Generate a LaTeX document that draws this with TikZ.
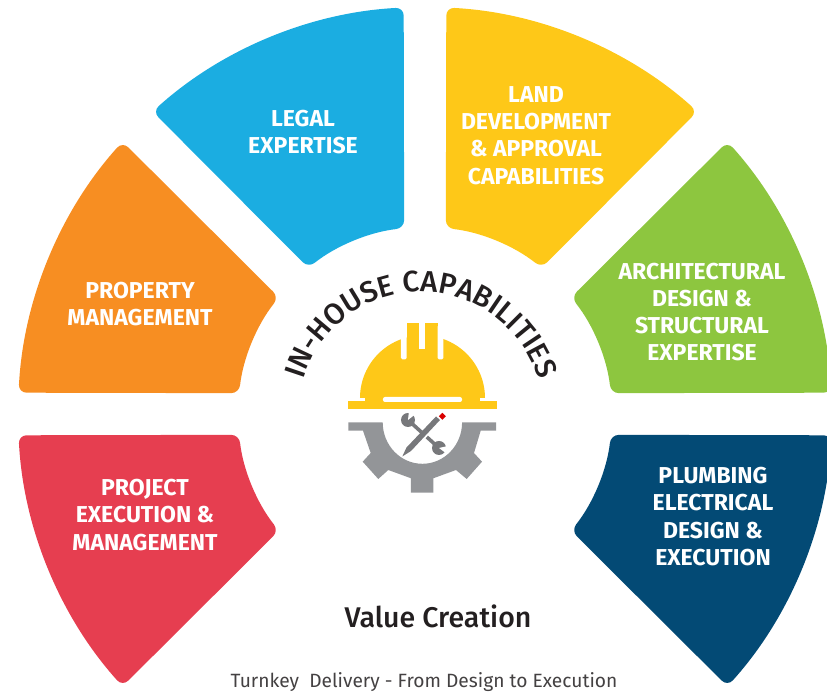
\documentclass[tikz,border=0pt]{standalone}
\usepackage{fontspec}
\usetikzlibrary{decorations.text}
\setmainfont{Fira Sans}
\newfontfamily\medfont{Fira Sans Medium}
\definecolor{legalblue}{HTML}{1BADE1}
\definecolor{landyellow}{HTML}{FEC818}
\definecolor{archgreen}{HTML}{8DC63F}
\definecolor{proporange}{HTML}{F78E22}
\definecolor{projred}{HTML}{E63E50}
\definecolor{plumbnavy}{HTML}{034A75}
\definecolor{geargray}{HTML}{939598}
\definecolor{toolgray}{HTML}{77787B}
\definecolor{inkdark}{HTML}{231F20}
\tikzset{
  sector/.style = {rounded corners = 8pt},
  seclabel/.style = {text = white, align = center, font = \fontsize{23}{27.2}\selectfont\bfseries},
}

\begin{document}
\begin{tikzpicture}[x = 1pt, y = 1pt]
\useasboundingbox (-425,-278) rectangle (402,414);
\clip (-425,-278) rectangle (402,414);
% six sectors round the origin
\fill[sector, legalblue] (93:407) arc (93:132:407) -- (128.6:187) arc (128.6:96.4:187) -- cycle;
\fill[sector, landyellow] (87:407) arc (87:48:407) -- (51.4:187) arc (51.4:83.6:187) -- cycle;
\fill[sector, archgreen] (42:407) arc (42:3:407) -- (6.4:187) arc (6.4:38.6:187) -- cycle;
\fill[sector, proporange] (138:407) arc (138:177:407) -- (173.6:187) arc (173.6:141.4:187) -- cycle;
\fill[sector, projred] (183:407) arc (183:222:407) -- (218.6:187) arc (218.6:186.4:187) -- cycle;
\fill[sector, plumbnavy] (357:407) arc (357:318:407) -- (321.4:187) arc (321.4:353.6:187) -- cycle;
% labels
\node[seclabel] (legal) at (-122,282) {LEGAL\\EXPERTISE};
\node[seclabel] (land) at (111,278.5) {LAND\\DEVELOPMENT\\\& APPROVAL\\CAPABILITIES};
\node[seclabel] (arch) at (277,102) {ARCHITECTURAL\\DESIGN \&\\STRUCTURAL\\EXPERTISE};
\node[seclabel] (prop) at (-285,110) {PROPERTY\\MANAGEMENT};
\node[seclabel] (proj) at (-280,-101) {PROJECT\\EXECUTION \&\\MANAGEMENT};
\node[seclabel] (plumb) at (288,-102.5) {PLUMBING\\ELECTRICAL\\DESIGN \&\\EXECUTION};
\node[text = inkdark, font = \fontsize{28.5}{29}\medfont] (value) at (13,-202) {Value Creation};
\node[text = inkdark!85, font = \fontsize{19.2}{19.2}\selectfont] (turnkey) at (-1,-268) {Turnkey\ \ Delivery - From Design to Execution};
% curved title
\path[decorate, decoration = {text along path, text align = center, text color = inkdark,
  text = {|\fontsize{29.5}{29.5}\medfont|IN-HOUSE CAPABILITIES}}]
  ([shift = {(-4,-1)}]178:123) arc (178:2:123);
% helmet and gear, typed in image pixels
\begin{scope}[shift = {(-425,414)}, yscale = -1]
\fill[landyellow] (360,398) arc (180:360:62.5) -- cycle;
\fill[landyellow] (406.7,323.5) rectangle (437.7,350);
\fill[landyellow] (348,401) rectangle (497,409);
\fill[landyellow] (365,396) rectangle (480,402);
\fill[white, rounded corners = 1.5pt] (401,325) rectangle (406.7,359.5);
\fill[white, rounded corners = 1.5pt] (437.7,325) rectangle (443.3,359.5);
\fill[white] (419.5,323) rectangle (425.5,349);
\fill[white, rounded corners = 2pt] (383,397) rectangle (462,402);
\fill[geargray] (348.3,422.3) -- (382.7,422.3) arc (180:0:39.7 and 41.5) -- (496,422.3) -- (496,430.7) -- (480.7,430.7)
  -- (474,453) -- (482,461.7) -- (466.7,479) -- (456,470) -- (433.3,478.3) -- (433.3,492.7) -- (411,492.7) -- (411,478.3)
  -- (388.3,470) -- (378.3,479) -- (362.7,461.7) -- (370.7,453) -- (363,430.7) -- (348.3,430.7) -- cycle;
% wrench
\draw[toolgray, line width = 3.6pt] (408,420) -- (439,448);
\fill[toolgray] (408,420) circle (7);
\fill[toolgray] (439,448) circle (7);
\fill[white] (408,420) -- (417,413) -- (409,411) -- cycle;
\fill[white] (439,448) -- (448,446) -- (447,454) -- cycle;
% pencil
\fill[white] (405.5,451.5) -- (435.5,415.5) -- (441,420.5) -- (410.5,455.5) -- cycle;
\fill[toolgray] (402.3,456.5) -- (406.5,447.5) -- (436,416.5) -- (440,420) -- (411,451) -- cycle;
\fill[red!85!black] (442.3,412.8) -- (445.8,416.3) -- (442.3,419.8) -- (438.8,416.3) -- cycle;
\end{scope}
\end{tikzpicture}
\end{document}
